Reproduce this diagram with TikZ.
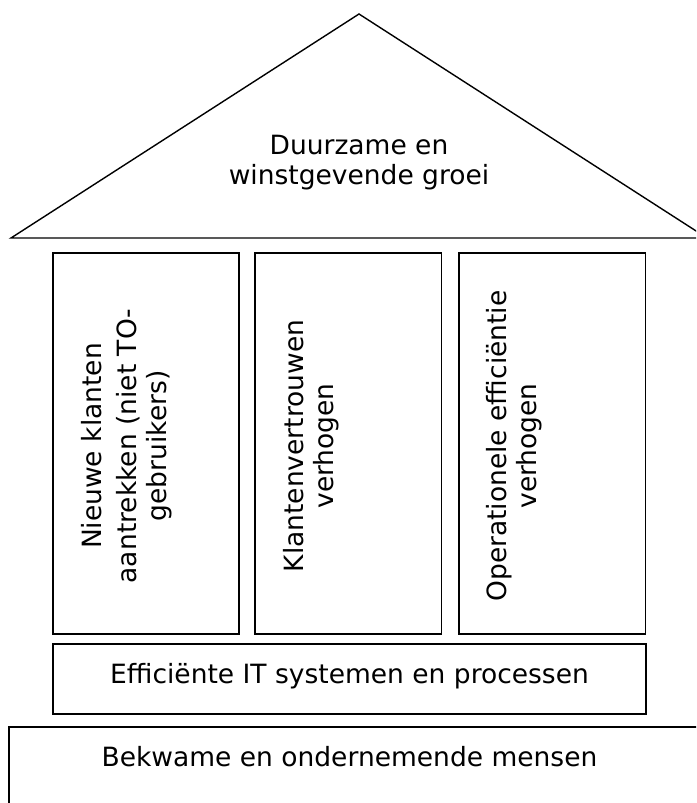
\documentclass[tikz,border=0pt]{standalone}
\usepackage{fontspec}
\setmainfont{DejaVu Sans}
\begin{document}
\begin{tikzpicture}[x=1pt, y=-1pt, line width=1.4pt, line join=miter,
  frame/.style={draw=black},
  label/.style={inner sep=0pt, font=\fontsize{26.5}{30}\selectfont},
  pillartext/.style={label, rotate=90, anchor=north, align=center}]
  \useasboundingbox (0,0) rectangle (696,803);
  \clip (0,0) rectangle (696,803);

  % roof
  \draw[frame] (359,14) -- (11,238) -- (707,238) -- cycle;
  \node[label, anchor=north, align=center] (roof) at (359,134)
    {Duurzame en\\winstgevende groei};

  % pillars
  \draw[frame] (53,253) rectangle (239,634);
  \draw[frame] (255,253) rectangle (441.5,634);
  \draw[frame] (459,253) rectangle (645.5,634);
  \node[pillartext] (p1) at (81,446)
    {Nieuwe klanten\\[5pt]aantrekken (niet TO-\\gebruikers)};
  \node[pillartext] (p2) at (282.5,446) {Klantenvertrouwen\\verhogen};
  \node[pillartext] (p3) at (485.5,446) {Operationele efficiëntie\\verhogen};

  % beam
  \draw[frame] (53,644) rectangle (646,714);
  \node[label, anchor=base] (beam) at (349.5,683) {Efficiënte IT systemen en processen};

  % foundation
  \draw[frame] (9,727) rectangle (720,830);
  \node[label, anchor=base] (base) at (349.5,766) {Bekwame en ondernemende mensen};
\end{tikzpicture}
\end{document}
